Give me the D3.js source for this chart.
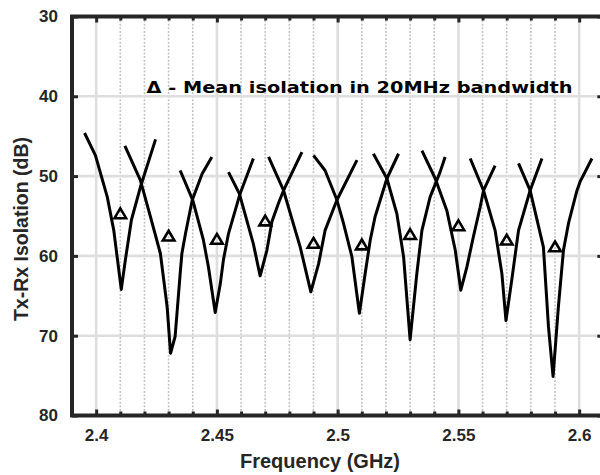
<!DOCTYPE html>
<html><head><meta charset="utf-8">
<script src="https://cdn.jsdelivr.net/npm/d3@7"></script>
<style>body{margin:0;background:#fff}svg{display:block}</style>
</head><body>
<svg id="c" width="600" height="475"></svg>
<script>
// ---- data (frequency in GHz, isolation in dB) ----
const xMajorTicks = [2.4, 2.45, 2.5, 2.55, 2.6];
const xTickLabels = ["2.4", "2.45", "2.5", "2.55", "2.6"];
const xMinorTicks = [2.41,2.42,2.43,2.44,2.46,2.47,2.48,2.49,2.51,2.52,2.53,2.54,2.56,2.57,2.58,2.59];
const yTicks = [30, 40, 50, 60, 70, 80];
const yTickLabels = ["30", "40", "50", "60", "70", "80"];

const channel1  = [[2.3952,44.6],[2.3997,47.4],[2.4046,52.6],[2.4073,56.8],[2.4104,64.2],[2.4121,60.5],[2.4146,55.5],[2.4183,51.4],[2.4246,45.4]];
const channel2  = [[2.4119,46.2],[2.4183,50.5],[2.4225,55.1],[2.4266,59.7],[2.4294,66.4],[2.4308,72.2],[2.4327,70.1],[2.4348,62.2],[2.4355,59.7],[2.4370,57.2],[2.4398,53.0],[2.4439,49.7],[2.4479,47.6]];
const channel3  = [[2.4348,49.3],[2.4400,53.0],[2.4444,58.0],[2.4465,61.4],[2.4493,67.1],[2.4514,63.5],[2.4527,60.5],[2.4548,57.2],[2.4596,52.2],[2.4651,47.8]];
const channel4  = [[2.4548,49.5],[2.4593,52.2],[2.4651,58.5],[2.4679,62.5],[2.4707,59.3],[2.4728,55.7],[2.4755,53.4],[2.4776,51.8],[2.4852,47.0]];
const channel5  = [[2.4714,47.6],[2.4776,51.8],[2.4845,58.9],[2.4889,64.5],[2.4921,61.0],[2.4948,56.8],[2.4997,53.0],[2.5080,48.0]];
const channel6  = [[2.4900,47.4],[2.4948,49.3],[2.4997,53.0],[2.5024,55.9],[2.5059,60.1],[2.5090,67.2],[2.5114,62.2],[2.5135,58.0],[2.5155,55.1],[2.5204,50.3],[2.5252,47.2]];
const channel7  = [[2.5148,47.2],[2.5204,50.3],[2.5245,54.7],[2.5273,60.1],[2.5300,70.5],[2.5328,62.2],[2.5349,56.8],[2.5383,52.6],[2.5424,49.5],[2.5445,47.6]];
const channel8  = [[2.5349,46.8],[2.5404,50.3],[2.5452,54.3],[2.5487,59.3],[2.5510,64.3],[2.5535,61.4],[2.5562,57.6],[2.5590,53.9],[2.5604,51.8],[2.5652,48.7]];
const channel9  = [[2.5549,47.8],[2.5604,51.8],[2.5652,56.8],[2.5680,62.2],[2.5697,68.1],[2.5721,63.0],[2.5749,56.8],[2.5797,51.8],[2.5846,47.8]];
const channel10 = [[2.5749,48.4],[2.5797,51.8],[2.5852,58.9],[2.5873,68.9],[2.5892,75.1],[2.5914,66.4],[2.5935,59.3],[2.5956,55.9],[2.5991,51.8],[2.6004,50.7],[2.6053,47.8]];
const channels = [channel1, channel2, channel3, channel4, channel5, channel6, channel7, channel8, channel9, channel10];

const meanFreq = [2.41, 2.43, 2.45, 2.47, 2.49, 2.51, 2.53, 2.55, 2.57, 2.59];
const meanIso  = [54.7, 57.5, 57.9, 55.6, 58.4, 58.6, 57.3, 56.2, 58.0, 58.85];

const legendText = "\u0394 - Mean isolation in 20MHz bandwidth";
const xTitle = "Frequency (GHz)";
const yTitle = "Tx-Rx Isolation (dB)";

// ---- layout ----
const L = 72, R = 603.3, T = 16.5, B = 415.5;
const svg = d3.select("#c");
const x = d3.scaleLinear().domain([2.39, 2.61]).range([L, R]);
const y = d3.scaleLinear().domain([30, 80]).range([T, B]);
const axisCol = "#262626";
const fontAx = "'Liberation Sans', Arial, Helvetica, sans-serif";

svg.append("rect").attr("width", 600).attr("height", 475).attr("fill", "#fff");

// grid
const grid = svg.append("g");
grid.selectAll(".vmin").data(xMinorTicks).join("line")
  .attr("x1", d => x(d)).attr("x2", d => x(d)).attr("y1", T).attr("y2", B)
  .attr("stroke", "#c4c4c4").attr("stroke-width", 1.6).attr("stroke-dasharray", "2,1.6");
grid.selectAll(".vmaj").data(xMajorTicks).join("line")
  .attr("x1", d => x(d)).attr("x2", d => x(d)).attr("y1", T).attr("y2", B)
  .attr("stroke", "#dedede").attr("stroke-width", 2.6);
grid.selectAll(".hmaj").data(yTicks.slice(1, -1)).join("line")
  .attr("x1", L).attr("x2", R).attr("y1", d => y(d)).attr("y2", d => y(d))
  .attr("stroke", "#dedede").attr("stroke-width", 2.6);

// curves
const line = d3.line().x(d => x(d[0])).y(d => y(d[1]));
svg.append("g").selectAll("path").data(channels).join("path")
  .attr("d", line).attr("fill", "none").attr("stroke", "#000")
  .attr("stroke-width", 3).attr("stroke-linejoin", "round");

// mean markers
svg.append("g").selectAll("path").data(meanFreq).join("path")
  .attr("d", "M0,-5.2L5.8,4.6L-5.8,4.6Z")
  .attr("transform", (d, i) => `translate(${x(d)},${y(meanIso[i])})`)
  .attr("fill", "none").attr("stroke", "#000").attr("stroke-width", 2.6)
  .attr("stroke-linejoin", "miter");

// axes
function styleAxis(g) {
  g.select(".domain").remove();
  g.selectAll(".tick line").attr("stroke", axisCol).attr("stroke-width", 3);
  g.selectAll(".tick text").attr("fill", axisCol).attr("font-family", fontAx)
    .attr("font-weight", "bold").attr("font-size", 17);
}
svg.append("g").attr("transform", `translate(0,${B})`)
  .call(d3.axisBottom(x).tickValues(xMajorTicks).tickFormat((d, i) => xTickLabels[i])
    .tickSizeInner(-6).tickSizeOuter(0).tickPadding(13)).call(styleAxis);
svg.append("g").attr("transform", `translate(0,${B})`)
  .call(d3.axisBottom(x).tickValues(xMinorTicks).tickFormat("")
    .tickSizeInner(-4).tickSizeOuter(0)).call(styleAxis);
svg.append("g").attr("transform", `translate(0,${T})`)
  .call(d3.axisTop(x).tickValues(xMajorTicks).tickFormat("")
    .tickSizeInner(-6).tickSizeOuter(0)).call(styleAxis);
svg.append("g").attr("transform", `translate(0,${T})`)
  .call(d3.axisTop(x).tickValues(xMinorTicks).tickFormat("")
    .tickSizeInner(-4).tickSizeOuter(0)).call(styleAxis);
svg.append("g").attr("transform", `translate(${L},0)`)
  .call(d3.axisLeft(y).tickValues(yTicks).tickFormat((d, i) => yTickLabels[i])
    .tickSizeInner(-6).tickSizeOuter(0).tickPadding(14)).call(styleAxis);
svg.append("g").attr("transform", `translate(${R},0)`)
  .call(d3.axisRight(y).tickValues(yTicks).tickFormat("")
    .tickSizeInner(-6).tickSizeOuter(0)).call(styleAxis);

// frame
svg.append("rect").attr("x", L).attr("y", T).attr("width", R - L).attr("height", B - T)
  .attr("fill", "none").attr("stroke", axisCol).attr("stroke-width", 4);

// titles
svg.append("text").attr("x", 320).attr("y", 468).attr("text-anchor", "middle")
  .attr("font-family", fontAx).attr("font-weight", "bold").attr("font-size", 20)
  .attr("fill", axisCol).text(xTitle);
svg.append("text").attr("transform", "translate(28,229) rotate(-90)").attr("text-anchor", "middle")
  .attr("font-family", fontAx).attr("font-weight", "bold").attr("font-size", 19.5)
  .attr("fill", axisCol).text(yTitle);

// legend note
svg.append("text").attr("x", 146.5).attr("y", 92.5)
  .attr("font-family", "'DejaVu Sans', Verdana, sans-serif").attr("font-weight", "bold")
  .attr("font-size", 16.5).attr("fill", "#000")
  .attr("textLength", 426).attr("lengthAdjust", "spacingAndGlyphs").text(legendText);
</script>
</body></html>
